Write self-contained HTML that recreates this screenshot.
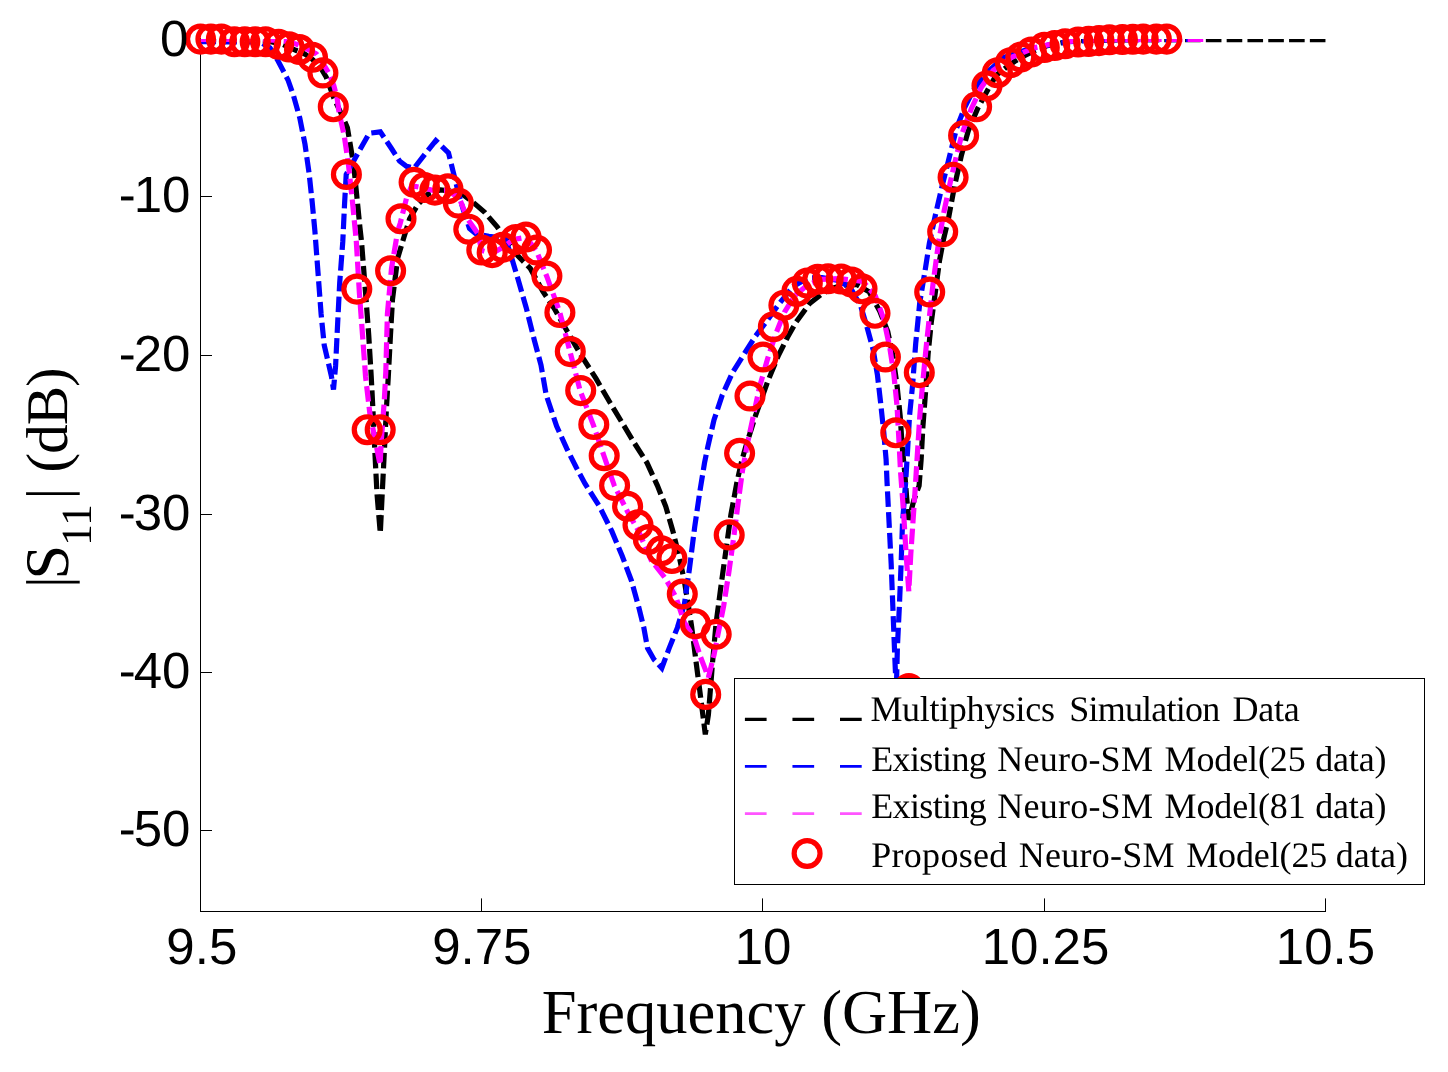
<!DOCTYPE html>
<html><head><meta charset="utf-8"><title>S11 chart</title>
<style>
html,body{margin:0;padding:0;background:#fff;}
body{width:1448px;height:1072px;overflow:hidden;}
svg{display:block;}
text{text-rendering:geometricPrecision;}
.noaa{filter:grayscale(1);}
.sans{font-family:"Liberation Sans",sans-serif;font-size:51px;fill:#000;}
.serif{font-family:"Liberation Serif",serif;fill:#000;}
</style></head><body>
<svg width="1448" height="1072" viewBox="0 0 1448 1072">
<defs><clipPath id="ax"><rect x="200" y="39" width="1127" height="873"/></clipPath></defs>
<rect width="1448" height="1072" fill="#fff"/>
<g fill="#000"><rect x="200" y="38" width="1" height="874"/><rect x="200" y="911" width="1126" height="1"/><rect x="200" y="196" width="12" height="1"/><rect x="200" y="355" width="12" height="1"/><rect x="200" y="514" width="12" height="1"/><rect x="200" y="672" width="12" height="1"/><rect x="200" y="830" width="12" height="1"/><rect x="200" y="898.4" width="1" height="13.6"/><rect x="481" y="898.4" width="1" height="13.6"/><rect x="762" y="898.4" width="1" height="13.6"/><rect x="1044" y="898.4" width="1" height="13.6"/><rect x="1325" y="898.4" width="1" height="13.6"/></g>
<g clip-path="url(#ax)" fill="none" stroke-width="5.2" stroke-dasharray="15.6 5.2" stroke-linejoin="miter" stroke-miterlimit="3">
<polyline stroke="#000" points="200.5,39.6 255.0,40.2 270.0,41.5 283.0,44.5 294.8,49.9 304.8,54.0 313.1,59.9 321.4,69.0 326.3,77.3 330.9,89.8 333.8,98.1 341.0,113.0 347.4,127.7 353.7,165.0 356.8,196.1 359.9,227.2 361.5,241.4 365.6,293.2 368.7,334.7 371.2,376.1 372.9,409.0 374.9,452.5 377.0,493.9 380.3,533.3 382.2,493.9 384.3,452.5 386.3,411.0 388.2,378.0 390.5,334.7 392.5,299.4 397.7,258.0 404.0,237.0 409.6,218.9 417.9,204.4 428.2,194.0 440.7,189.9 459.3,192.0 473.0,202.2 484.7,212.4 497.2,226.9 517.9,255.9 530.3,268.4 542.7,291.2 554.0,308.0 566.9,330.8 581.4,355.7 595.9,378.4 610.4,403.3 622.9,424.0 634.0,442.5 647.0,462.8 657.4,485.6 665.7,506.3 672.9,531.2 679.1,556.0 684.3,580.9 688.4,605.7 691.7,627.0 695.3,656.0 700.2,693.9 705.3,734.3 708.4,714.7 712.5,663.0 716.0,624.0 720.7,588.0 725.7,551.9 730.9,514.6 737.1,481.4 741.5,462.0 745.5,447.5 755.5,415.7 767.9,381.0 778.6,355.0 787.5,337.3 796.3,321.8 809.6,303.5 821.7,294.0 832.0,288.5 842.0,285.2 856.7,284.5 869.1,291.8 879.4,310.4 887.7,331.2 892.9,356.0 897.0,385.0 900.2,416.1 902.2,446.7 904.6,471.1 906.7,498.0 908.8,519.8 913.9,500.1 919.1,485.6 921.1,460.0 922.9,426.5 926.1,385.0 928.1,353.9 931.2,322.9 935.4,291.8 939.5,260.7 943.4,240.0 948.4,218.9 954.6,185.7 961.5,155.0 968.2,131.0 977.7,108.4 988.9,87.7 996.3,75.2 1008.0,66.0 1020.0,57.8 1032.0,52.0 1047.4,45.6 1068.1,41.4 1090.0,40.2 1120.0,39.8 1200.0,39.6 1325.5,39.6"/>
<polyline stroke="#0000ff" points="200.5,41.7 250.0,41.9 262.0,43.0 270.0,48.0 277.3,59.6 284.0,72.3 288.0,80.0 293.6,96.0 299.8,118.0 305.0,144.3 309.1,173.3 312.2,202.3 314.9,231.1 318.0,272.5 321.1,313.9 324.2,345.0 331.4,376.1 333.5,389.6 335.6,365.7 337.6,324.3 339.7,282.9 342.8,241.4 344.5,205.0 346.2,174.5 358.0,153.2 369.2,133.3 380.3,131.8 391.8,149.0 399.5,161.0 406.5,166.3 414.0,168.2 425.5,153.5 435.8,140.6 448.5,152.8 453.0,171.0 459.2,196.0 464.0,212.0 469.5,228.5 476.5,234.2 488.9,236.3 505.5,238.3 511.7,258.0 517.9,278.7 526.2,307.7 534.5,340.9 541.0,365.0 546.2,395.0 556.6,426.1 566.9,448.9 576.3,467.5 584.9,483.5 599.4,506.3 611.8,531.2 622.2,556.0 631.5,580.9 638.7,607.0 643.9,628.0 647.5,648.0 654.0,659.5 661.8,668.0 669.1,648.4 677.4,627.6 684.4,604.0 689.5,568.4 694.7,527.0 699.8,491.8 704.5,463.0 707.8,446.8 714.0,419.9 722.3,395.0 732.7,372.2 745.1,352.5 755.5,336.2 767.9,319.4 780.2,302.3 793.5,286.2 808.0,278.0 822.0,277.5 838.0,280.4 850.4,287.6 860.8,306.3 867.0,327.0 873.2,349.8 877.4,374.7 880.5,401.6 883.6,430.6 886.1,459.6 887.0,481.4 889.1,522.9 891.2,564.3 892.8,605.7 894.9,659.6 896.3,692.0 897.4,647.2 899.4,605.7 901.1,564.3 902.5,522.9 905.7,481.4 907.6,450.0 909.5,416.1 912.6,385.0 915.7,343.6 919.8,302.2 925.0,271.1 929.4,243.0 935.9,212.7 942.2,185.7 948.4,160.9 956.7,127.7 964.9,107.0 973.2,90.4 987.7,71.8 1004.3,57.3 1026.7,49.7 1047.4,45.2 1070.0,41.6 1095.0,40.2 1120.0,39.6 1205.5,39.5"/>
<polyline stroke="#ff00ff" points="200.5,39.4 260.0,39.6 273.2,40.2 284.8,41.2 296.4,44.1 308.9,49.9 316.4,54.0 323.9,64.8 328.8,73.1 333.8,85.6 337.1,98.1 339.2,113.2 344.3,136.0 348.5,165.0 352.4,201.0 356.3,241.4 359.4,293.2 362.5,334.7 365.6,377.0 369.8,413.0 380.1,464.9 381.2,442.0 384.3,400.7 385.8,372.0 387.4,313.9 391.5,268.4 397.7,231.1 400.3,223.0 406.5,198.2 411.7,185.7 424.0,188.0 435.0,191.0 448.0,190.5 459.3,198.2 467.6,218.9 478.0,233.8 481.6,250.3 492.0,253.4 501.7,248.1 513.7,239.4 526.2,237.3 536.5,251.0 546.9,276.7 559.8,312.3 570.1,352.0 580.2,390.8 593.4,425.1 604.0,456.0 614.3,485.6 627.7,512.0 638.0,530.0 651.2,560.2 665.7,578.8 676.0,597.4 684.3,622.3 694.7,638.9 700.5,657.0 708.4,677.4 714.0,655.0 717.5,636.8 723.7,605.7 728.8,572.6 734.0,535.3 738.2,502.2 742.5,470.5 747.3,444.0 753.4,415.7 759.6,386.7 767.9,357.7 776.2,332.9 784.5,312.1 794.8,295.6 807.2,285.2 821.4,279.4 840.0,278.6 862.9,281.4 875.3,295.9 883.6,318.7 889.8,347.7 893.9,374.7 897.0,405.7 898.8,438.0 900.5,471.1 903.6,512.5 906.1,553.9 908.8,591.2 910.8,553.9 912.9,522.9 915.0,491.8 917.0,460.0 919.8,416.1 922.9,380.9 926.1,347.7 929.2,318.7 933.3,281.4 937.5,250.4 939.0,239.6 944.2,210.6 950.4,181.6 956.5,155.5 962.4,132.5 971.3,108.7 981.3,87.4 993.0,70.7 1011.5,57.3 1035.0,47.6 1061.2,42.1 1082.0,40.4 1110.0,39.6 1205.5,39.4"/>
</g>
<g fill="none" stroke="#ff0000" stroke-width="5.2"><circle cx="200.5" cy="39.1" r="12.95"/><circle cx="210.9" cy="39.1" r="12.95"/><circle cx="221.4" cy="39.1" r="12.95"/><circle cx="234.4" cy="41.7" r="12.95"/><circle cx="244.8" cy="41.7" r="12.95"/><circle cx="255.2" cy="41.7" r="12.95"/><circle cx="265.6" cy="41.7" r="12.95"/><circle cx="278.6" cy="44.3" r="12.95"/><circle cx="289.1" cy="46.9" r="12.95"/><circle cx="299.5" cy="49.5" r="12.95"/><circle cx="312.5" cy="57.3" r="12.95"/><circle cx="322.9" cy="72.9" r="12.95"/><circle cx="333.3" cy="106.8" r="12.95"/><circle cx="346.4" cy="174.5" r="12.95"/><circle cx="356.8" cy="289.1" r="12.95"/><circle cx="367.2" cy="429.7" r="12.95"/><circle cx="380.2" cy="429.7" r="12.95"/><circle cx="390.6" cy="270.8" r="12.95"/><circle cx="401.0" cy="218.8" r="12.95"/><circle cx="414.1" cy="182.3" r="12.95"/><circle cx="424.5" cy="187.5" r="12.95"/><circle cx="434.9" cy="190.1" r="12.95"/><circle cx="447.9" cy="188.8" r="12.95"/><circle cx="458.3" cy="203.1" r="12.95"/><circle cx="468.8" cy="229.2" r="12.95"/><circle cx="481.8" cy="250.0" r="12.95"/><circle cx="492.2" cy="252.6" r="12.95"/><circle cx="502.6" cy="247.4" r="12.95"/><circle cx="515.6" cy="239.6" r="12.95"/><circle cx="526.0" cy="237.0" r="12.95"/><circle cx="536.5" cy="250.0" r="12.95"/><circle cx="546.9" cy="276.0" r="12.95"/><circle cx="559.9" cy="312.5" r="12.95"/><circle cx="570.3" cy="351.6" r="12.95"/><circle cx="580.7" cy="390.6" r="12.95"/><circle cx="593.8" cy="424.5" r="12.95"/><circle cx="604.2" cy="455.7" r="12.95"/><circle cx="614.6" cy="485.6" r="12.95"/><circle cx="627.6" cy="506.3" r="12.95"/><circle cx="638.0" cy="524.9" r="12.95"/><circle cx="648.4" cy="539.5" r="12.95"/><circle cx="661.5" cy="550.8" r="12.95"/><circle cx="671.9" cy="558.5" r="12.95"/><circle cx="682.3" cy="594.0" r="12.95"/><circle cx="695.3" cy="623.7" r="12.95"/><circle cx="705.7" cy="694.4" r="12.95"/><circle cx="716.2" cy="634.3" r="12.95"/><circle cx="729.2" cy="534.9" r="12.95"/><circle cx="739.6" cy="453.3" r="12.95"/><circle cx="750.0" cy="396.0" r="12.95"/><circle cx="763.0" cy="357.0" r="12.95"/><circle cx="773.4" cy="326.7" r="12.95"/><circle cx="783.9" cy="305.2" r="12.95"/><circle cx="796.9" cy="291.4" r="12.95"/><circle cx="807.3" cy="283.1" r="12.95"/><circle cx="817.7" cy="279.3" r="12.95"/><circle cx="828.1" cy="278.8" r="12.95"/><circle cx="841.2" cy="279.0" r="12.95"/><circle cx="851.6" cy="282.0" r="12.95"/><circle cx="862.0" cy="288.8" r="12.95"/><circle cx="875.0" cy="313.3" r="12.95"/><circle cx="885.4" cy="357.0" r="12.95"/><circle cx="895.8" cy="432.8" r="12.95"/><circle cx="908.9" cy="688.6" r="12.95"/><circle cx="919.3" cy="372.6" r="12.95"/><circle cx="929.7" cy="292.0" r="12.95"/><circle cx="942.7" cy="231.8" r="12.95"/><circle cx="953.1" cy="177.2" r="12.95"/><circle cx="963.6" cy="135.5" r="12.95"/><circle cx="976.6" cy="106.8" r="12.95"/><circle cx="987.0" cy="85.8" r="12.95"/><circle cx="997.4" cy="72.7" r="12.95"/><circle cx="1010.4" cy="62.7" r="12.95"/><circle cx="1020.8" cy="57.0" r="12.95"/><circle cx="1031.3" cy="52.0" r="12.95"/><circle cx="1044.3" cy="47.4" r="12.95"/><circle cx="1054.7" cy="45.5" r="12.95"/><circle cx="1065.1" cy="43.8" r="12.95"/><circle cx="1078.1" cy="42.0" r="12.95"/><circle cx="1088.6" cy="41.4" r="12.95"/><circle cx="1099.0" cy="40.6" r="12.95"/><circle cx="1109.4" cy="39.8" r="12.95"/><circle cx="1122.4" cy="39.5" r="12.95"/><circle cx="1132.8" cy="39.2" r="12.95"/><circle cx="1143.2" cy="39.1" r="12.95"/><circle cx="1156.3" cy="39.1" r="12.95"/><circle cx="1166.7" cy="39.1" r="12.95"/></g>
<g class="sans"><text x="188.4" y="56.4" text-anchor="end">0</text><text x="188.4" y="212.4" text-anchor="end"><tspan dx="2">-</tspan><tspan dx="-2">10</tspan></text><text x="188.4" y="371.4" text-anchor="end"><tspan dx="2">-</tspan><tspan dx="-2">20</tspan></text><text x="188.4" y="529.9" text-anchor="end"><tspan dx="2">-</tspan><tspan dx="-2">30</tspan></text><text x="188.4" y="688.4" text-anchor="end"><tspan dx="2">-</tspan><tspan dx="-2">40</tspan></text><text x="188.4" y="846.4" text-anchor="end"><tspan dx="2">-</tspan><tspan dx="-2">50</tspan></text><text x="201.8" y="964.4" text-anchor="middle">9.5</text><text x="481.8" y="964.4" text-anchor="middle">9.75</text><text x="763.0" y="964.4" text-anchor="middle">10</text><text x="1045.5" y="964.4" text-anchor="middle">10.25</text><text x="1325.5" y="964.4" text-anchor="middle">10.5</text></g>
<text class="serif" x="541.8" y="1032.6" font-size="62.5" textLength="439" lengthAdjust="spacing">Frequency (GHz)</text>
<g class="serif noaa" transform="translate(66.5,600) rotate(-90)" font-size="59">
<text x="12" y="0">|</text>
<text x="20.5" y="1" font-size="62">S</text>
<text x="54.3" y="24" font-size="43">11</text>
<text x="100.5" y="0">|</text>
<text x="127.6" y="0" textLength="105" lengthAdjust="spacing">(dB)</text>
</g>
<rect x="734.5" y="678.5" width="690" height="206" fill="#fff" stroke="#000" stroke-width="1"/>
<g fill="none" stroke-dasharray="21.7 25.85">
<line x1="744.9" y1="719.4" x2="862.2" y2="719.4" stroke="#000" stroke-width="3.3"/>
<line x1="744.9" y1="766.3" x2="862.2" y2="766.3" stroke="#0000ff" stroke-width="2.8"/>
<line x1="744.9" y1="813.6" x2="862.2" y2="813.6" stroke="#ff55ff" stroke-width="2.8"/>
</g>
<circle cx="807.1" cy="853.5" r="12.95" fill="none" stroke="#ff0000" stroke-width="5.2"/>
<g class="serif noaa" font-size="36">
<text x="870.4" y="721.3" textLength="184.5" lengthAdjust="spacing">Multiphysics</text>
<text x="1069.2" y="721.3" textLength="151.0" lengthAdjust="spacing">Simulation</text>
<text x="1232.6" y="721.3" textLength="67.2" lengthAdjust="spacing">Data</text>
<text x="871.2" y="770.8" textLength="115.6" lengthAdjust="spacing">Existing</text>
<text x="997.2" y="770.8" textLength="155.7" lengthAdjust="spacing">Neuro-SM</text>
<text x="1164.5" y="770.8" textLength="141.2" lengthAdjust="spacing">Model(25</text>
<text x="1315.3" y="770.8" textLength="71.1" lengthAdjust="spacing">data)</text>
<text x="871.2" y="818.3" textLength="115.6" lengthAdjust="spacing">Existing</text>
<text x="997.2" y="818.3" textLength="155.7" lengthAdjust="spacing">Neuro-SM</text>
<text x="1164.5" y="818.3" textLength="141.2" lengthAdjust="spacing">Model(81</text>
<text x="1315.3" y="818.3" textLength="71.1" lengthAdjust="spacing">data)</text>
<text x="871.2" y="867.0" textLength="136.1" lengthAdjust="spacing">Proposed</text>
<text x="1018.8" y="867.0" textLength="155.8" lengthAdjust="spacing">Neuro-SM</text>
<text x="1186.2" y="867.0" textLength="141.1" lengthAdjust="spacing">Model(25</text>
<text x="1335.8" y="867.0" textLength="72.2" lengthAdjust="spacing">data)</text>
</g>
</svg>
</body></html>
